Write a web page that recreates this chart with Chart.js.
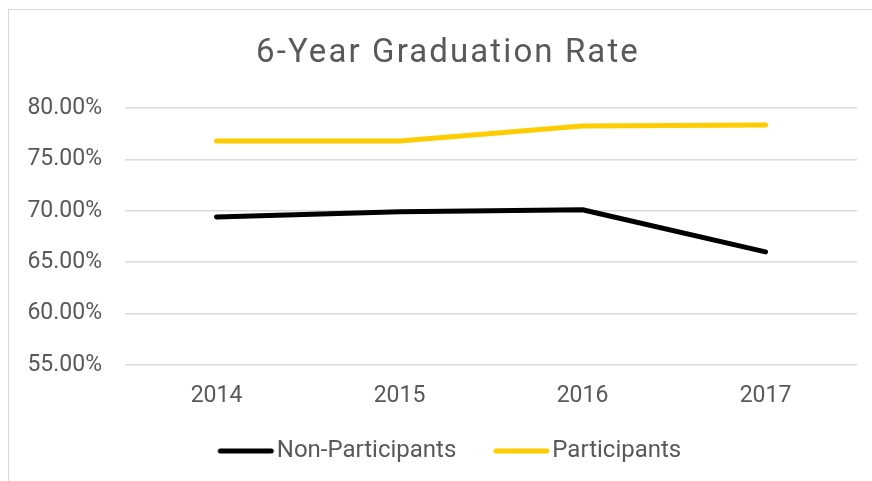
<!DOCTYPE html>
<html>
<head>
  <meta charset="utf-8">
  <title>6-Year Graduation Rate</title>
  <script src="https://cdn.jsdelivr.net/npm/chart.js"></script>
  <style>
    html, body { margin: 0; padding: 0; background: #fff; overflow: hidden; }
    #frame {
      position: absolute; left: 8px; top: 9px;
      width: 900px; height: 500px;
      border-left: 1.5px solid #d9d9d9; border-top: 1.5px solid #d9d9d9;
    }
    #gradChart { position: absolute; left: 8px; top: 9px; }
  </style>
</head>
<body>
  <div id="frame"></div>
  <canvas id="gradChart" width="880" height="472"></canvas>
  <script>
    const YEARS = ['2014', '2015', '2016', '2017'];
    const NON_PARTICIPANTS = [69.4, 69.9, 70.1, 66.0];
    const PARTICIPANTS = [76.8, 76.8, 78.25, 78.35];
    const Y_MIN = 55, Y_MAX = 80, Y_STEP = 5;

    const TEXT = '#595959';
    const GRID = '#d9d9d9';
    const FONT = 'Roboto';

    // legend swatch: a short round-capped line, with some empty room on the left
    function swatch(color) {
      const c = document.createElement('canvas');
      c.width = 71;
      c.height = 8;
      const g = c.getContext('2d');
      g.strokeStyle = color;
      g.lineWidth = 5;
      g.lineCap = 'round';
      g.beginPath();
      g.moveTo(13.5 + 2.5, 4);
      g.lineTo(69.5 - 2.5, 4);
      g.stroke();
      return c;
    }

    const ctx = document.getElementById('gradChart').getContext('2d');
    const chart = new Chart(ctx, {
      type: 'line',
      data: {
        labels: YEARS,
        datasets: [
          {
            label: 'Non-Participants',
            data: NON_PARTICIPANTS,
            borderColor: '#000000',
            backgroundColor: '#000000',
            borderWidth: 5,
            borderCapStyle: 'round',
            borderJoinStyle: 'round',
            pointRadius: 0,
            pointStyle: swatch('#000000'),
            fill: false
          },
          {
            label: 'Participants',
            data: PARTICIPANTS,
            borderColor: '#ffcc00',
            backgroundColor: '#ffcc00',
            borderWidth: 5,
            borderCapStyle: 'round',
            borderJoinStyle: 'round',
            pointRadius: 0,
            pointStyle: swatch('#ffcc00'),
            fill: false
          }
        ]
      },
      options: {
        responsive: false,
        animation: false,
        layout: { padding: { left: 0, right: 0, top: 0, bottom: 8 } },
        plugins: {
          title: {
            display: true,
            text: '6-Year Graduation Rate',
            color: TEXT,
            font: { family: FONT, size: 33, weight: 'normal' },
            padding: { top: 24.5, bottom: 34.9 }
          },
          legend: {
            display: true,
            position: 'bottom',
            labels: {
              color: TEXT,
              font: { family: FONT, size: 24 },
              usePointStyle: true,
              pointStyleWidth: 50,
              padding: 34
            }
          },
          tooltip: { enabled: false }
        },
        scales: {
          x: {
            offset: true,
            grid: { display: false, drawTicks: false },
            border: { display: false },
            ticks: { color: TEXT, font: { family: FONT, size: 23 }, padding: 17 },
            afterFit: axis => { axis.height = 40; }
          },
          y: {
            min: Y_MIN,
            max: Y_MAX,
            grid: { color: GRID, lineWidth: 1.5, drawTicks: false },
            border: { display: false },
            ticks: {
              stepSize: Y_STEP,
              color: TEXT,
              font: { family: FONT, size: 23 },
              padding: 23,
              callback: v => v.toFixed(2) + '%'
            },
            afterFit: axis => { axis.width = 117; }
          },
          yRight: {
            type: 'linear',
            position: 'right',
            grid: { display: false, drawTicks: false },
            border: { display: false },
            ticks: { display: false },
            afterFit: axis => { axis.width = 31; }
          }
        }
      }
    });

    // the title in the picture is spaced out a little
    const tb = chart.titleBlock;
    const drawTitle = tb.draw.bind(tb);
    tb.draw = function () {
      this.ctx.save();
      this.ctx.letterSpacing = '2.1px';
      drawTitle();
      this.ctx.restore();
    };
    chart.draw();
  </script>
</body>
</html>
